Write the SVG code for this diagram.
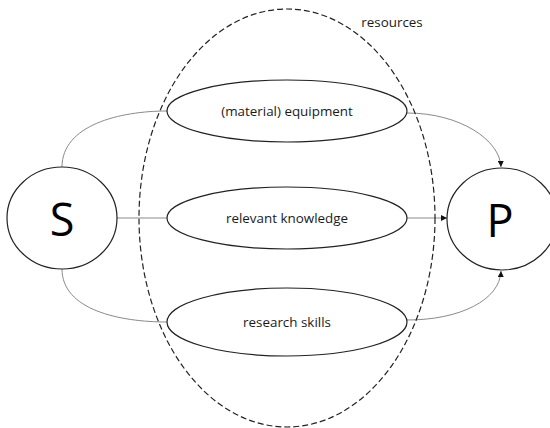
<svg xmlns="http://www.w3.org/2000/svg" width="550" height="428" viewBox="0 0 550 428">
<style>
.node{fill:#fff;stroke:#222;stroke-width:1.2}
.lbl{font-family:"Open Sans","Liberation Sans",sans-serif;font-size:13.4px;fill:#1a1a1a;text-anchor:middle;dominant-baseline:central}
.big{font-family:"Open Sans","Liberation Sans",sans-serif;font-size:45px;fill:#000;text-anchor:middle;dominant-baseline:central}
.conn{fill:none;stroke:#8a8a8a;stroke-width:1}
</style>
<defs>
<marker id="ah" viewBox="0 0 10 10" refX="10" refY="5" markerWidth="6" markerHeight="6" orient="auto" markerUnits="userSpaceOnUse">
<path d="M0,0 L10,5 L0,10 z" fill="#111"/>
</marker>
</defs>
<g id="connectors">
<path class="conn" d="M62,167 C62,125 120,111 167,111"/>
<path class="conn" d="M117,218 L167,218"/>
<path class="conn" d="M62,269 C62,310 120,322 167,322"/>
<path class="conn" d="M407,113 C460,113 500,140 501,167" marker-end="url(#ah)"/>
<path class="conn" d="M407,218 L447,218" marker-end="url(#ah)"/>
<path class="conn" d="M407,320 C460,320 500,300 501,271" marker-end="url(#ah)"/>
</g>
<g id="resources">
<ellipse cx="287" cy="218" rx="148" ry="209" fill="none" stroke="#222" stroke-width="1.2" stroke-dasharray="6,3"/>
<text class="lbl" x="392" y="22">resources</text>
</g>
<g id="S"><ellipse class="node" cx="62" cy="218" rx="55" ry="51"/><text class="big" x="62" y="218">S</text></g>
<g id="P"><ellipse class="node" cx="502" cy="219" rx="55" ry="51"/><text class="big" x="500" y="219">P</text></g>
<g id="equipment"><ellipse class="node" cx="287" cy="111" rx="120" ry="31"/><text class="lbl" x="287" y="111">(material) equipment</text></g>
<g id="knowledge"><ellipse class="node" cx="287" cy="218" rx="120" ry="31"/><text class="lbl" x="287" y="218">relevant knowledge</text></g>
<g id="skills"><ellipse class="node" cx="287" cy="322" rx="120" ry="34"/><text class="lbl" x="287" y="322">research skills</text></g>
</svg>
